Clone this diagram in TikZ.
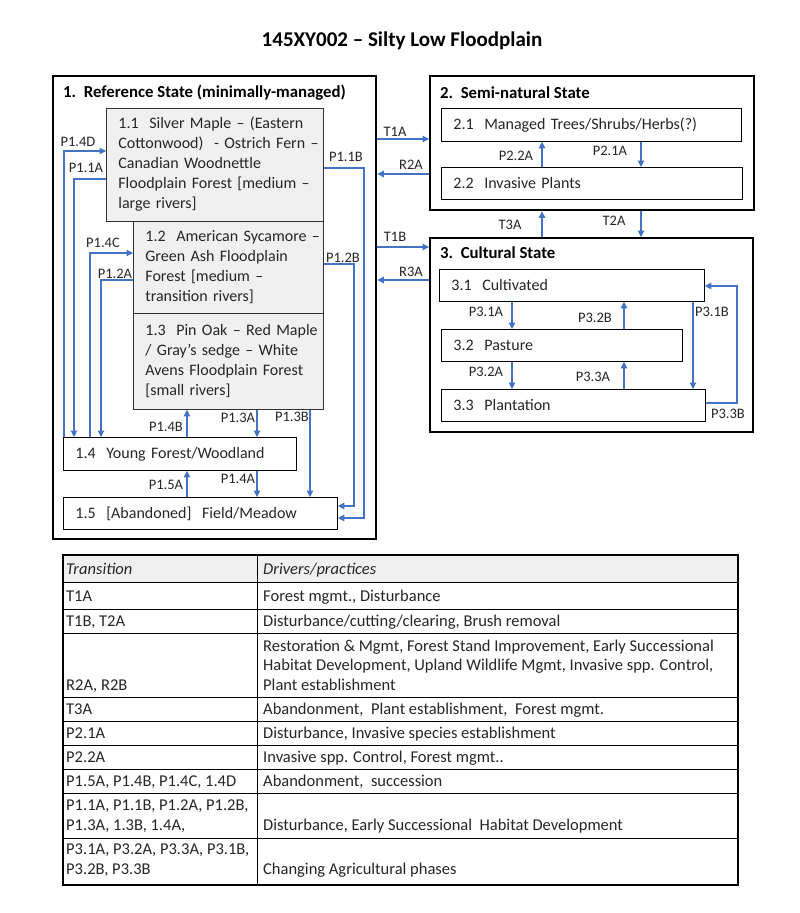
\documentclass[tikz,border=0pt]{standalone}
\usepackage{fontspec}
\setmainfont{Carlito}
\usepackage{tikz}
\usetikzlibrary{arrows.meta,positioning,calc}

\definecolor{arrowblue}{HTML}{4472C4}
\definecolor{boxgrey}{HTML}{F0F0F0}
\definecolor{txtgrey}{HTML}{262626}

\newcommand\boxfont{\fontsize{16}{20}\selectfont}
\newcommand\cellfont{\fontsize{16.5}{19.5}\selectfont}
\newcommand\lblfont{\fontsize{14.5}{16}\selectfont}
\newcommand\headfont{\fontsize{16.8}{20}\selectfont\bfseries}
\newcommand\phaselines[1]{\begin{tabular}{@{}l@{}}#1\end{tabular}}

\begin{document}
\begin{tikzpicture}[
  x=1pt, y=-1pt,
  state/.style={draw=black,line width=2.4pt,anchor=north west,inner sep=0pt},
  sbox/.style={draw=black,line width=0.8pt,fill=white,anchor=north west,inner xsep=12pt,inner ysep=0pt,align=left,font=\boxfont,text=txtgrey},
  gbox/.style={sbox,fill=boxgrey,draw=black!80},
  head/.style={anchor=west,inner sep=0pt,font=\headfont},
  lbl/.style={inner sep=0pt,font=\lblfont,text=txtgrey},
  arr/.style={draw=arrowblue,line width=1.1pt,-{Triangle[length=6.5pt,width=6.5pt]}},
  cell/.style={anchor=base west,inner sep=0pt,align=left,font=\cellfont,text=txtgrey},
  rule/.style={draw=black,line width=0.8pt}
]
  \fill[white] (0,0) rectangle (800,913);
  \useasboundingbox (0,0) rectangle (800,913);

  \node[font=\fontsize{21}{24}\selectfont\bfseries,inner sep=0pt] (title) at (402,41) {145XY002 – Silty Low Floodplain};

  % states
  \node[state,minimum width=323pt,minimum height=463pt] (st1) at (52,75) {};
  \node[state,minimum width=324pt,minimum height=134pt] (st2) at (429,75) {};
  \node[state,minimum width=323pt,minimum height=194pt] (st3) at (429,237) {};
  \node[head] (h1) at (63,93) {1.\ \ Reference State (minimally-managed)};
  \node[head] (h2) at (440,93) {2.\ \ Semi-natural State};
  \node[head] (h3) at (440,253) {3.\ \ Cultural State};

  % state 1 phases
  \node[gbox,text width=166pt,minimum height=92pt] (s12) at (133,221) {\phaselines{1.2\ \ American Sycamore –\\Green Ash Floodplain\\Forest [medium –\\transition rivers]}};
  \node[gbox,text width=166pt,minimum height=96pt] (s13) at (133,313) {\phaselines{1.3\ \ Pin Oak – Red Maple\\/ Gray’s sedge – White\\Avens Floodplain Forest\\{}[small rivers]}};
  \node[gbox,text width=193pt,minimum height=113pt] (s11) at (106,108) {\phaselines{1.1\ \ Silver Maple – (Eastern\\Cottonwood)\ \ - Ostrich Fern –\\Canadian Woodnettle\\Floodplain Forest [medium –\\large rivers]}};
  \node[sbox,text width=209pt,minimum height=33pt] (s14) at (63,437) {1.4\ \ Young Forest/Woodland};
  \node[sbox,text width=250pt,minimum height=32pt] (s15) at (63,497) {1.5\ \ [Abandoned]\ \ Field/Meadow};

  % state 2 and 3 phases
  \node[sbox,text width=276pt,minimum height=33pt] (s21) at (441,108) {2.1\ \ Managed Trees/Shrubs/Herbs(?)};
  \node[sbox,text width=277pt,minimum height=32pt] (s22) at (441,167) {2.2\ \ Invasive Plants};
  \node[sbox,text width=241pt,minimum height=32pt] (s31) at (439,269) {3.1\ \ Cultivated};
  \node[sbox,text width=217pt,minimum height=32pt] (s32) at (441,329) {3.2\ \ Pasture};
  \node[sbox,text width=240pt,minimum height=32pt] (s33) at (441,389) {3.3\ \ Plantation};

  % bends
  \coordinate (c14d) at (64,151);  \coordinate (c11a) at (74,179);
  \coordinate (c14c) at (90,253);  \coordinate (c12a) at (101,280);
  \coordinate (c11b) at (364,168); \coordinate (e11b) at (364,518);
  \coordinate (c12b) at (354,264); \coordinate (e12b) at (354,506);
  \coordinate (vA) at (187,0); \coordinate (vB) at (257,0); \coordinate (vC) at (310,0);
  \coordinate (v2a) at (542,0); \coordinate (v2b) at (641,0);
  \coordinate (v3a) at (512,0); \coordinate (v3b) at (624,0); \coordinate (v3c) at (693,0);
  \coordinate (c33b) at (737,403); \coordinate (c31b) at (737,286);
  \coordinate (yT1A) at (0,139); \coordinate (yR2A) at (0,174);
  \coordinate (yT1B) at (0,247); \coordinate (yR3A) at (0,280);

  \draw[arr] (s14.north -| c14d) |- (s11.west |- c14d);
  \draw[arr] (s11.west |- c11a) -| (s14.north -| c11a);
  \draw[arr] (s14.north -| c14c) |- (s12.west |- c14c);
  \draw[arr] (s12.west |- c12a) -| (s14.north -| c12a);
  \draw[arr] (s11.east |- c11b) -| (e11b) -- (s15.east |- e11b);
  \draw[arr] (s12.east |- c12b) -| (e12b) -- (s15.east |- e12b);
  \draw[arr] (s14.north -| vA) -- (s13.south -| vA);
  \draw[arr] (s13.south -| vB) -- (s14.north -| vB);
  \draw[arr] (s13.south -| vC) -- (s15.north -| vC);
  \draw[arr] (s15.north -| vA) -- (s14.south -| vA);
  \draw[arr] (s14.south -| vB) -- (s15.north -| vB);

  \draw[arr] (st1.east |- yT1A) -- (st2.west |- yT1A);
  \draw[arr] (st2.west |- yR2A) -- (st1.east |- yR2A);
  \draw[arr] (st1.east |- yT1B) -- (st3.west |- yT1B);
  \draw[arr] (st3.west |- yR3A) -- (st1.east |- yR3A);
  \draw[arr] (st3.north -| v2a) -- (st2.south -| v2a);
  \draw[arr] (st2.south -| v2b) -- (st3.north -| v2b);
  \draw[arr] (s22.north -| v2a) -- (s21.south -| v2a);
  \draw[arr] (s21.south -| v2b) -- (s22.north -| v2b);

  \draw[arr] (s31.south -| v3a) -- (s32.north -| v3a);
  \draw[arr] (s32.south -| v3a) -- (s33.north -| v3a);
  \draw[arr] (s32.north -| v3b) -- (s31.south -| v3b);
  \draw[arr] (s33.north -| v3b) -- (s32.south -| v3b);
  \draw[arr] (s31.south -| v3c) -- (s33.north -| v3c);
  \draw[arr] (s33.east |- c33b) -| (c31b) -- (s31.east |- c31b);

  % labels
  \node[lbl] (l14d) at (78,142) {P1.4D};
  \node[lbl] (l11a) at (86,168) {P1.1A};
  \node[lbl] (l14c) at (103,243) {P1.4C};
  \node[lbl] (l12a) at (115,274) {P1.2A};
  \node[lbl] (l11b) at (346,157) {P1.1B};
  \node[lbl] (l12b) at (343,258) {P1.2B};
  \node[lbl] (l14b) at (166,427) {P1.4B};
  \node[lbl] (l13a) at (238,418) {P1.3A};
  \node[lbl] (l13b) at (292,417) {P1.3B};
  \node[lbl] (l15a) at (166,485) {P1.5A};
  \node[lbl] (l14a) at (238,479) {P1.4A};
  \node[lbl] (lt1a) at (395,132) {T1A};
  \node[lbl] (lr2a) at (411,165) {R2A};
  \node[lbl] (lt1b) at (395,237) {T1B};
  \node[lbl] (lr3a) at (411,272) {R3A};
  \node[lbl] (lt3a) at (510,225) {T3A};
  \node[lbl] (lt2a) at (614,221) {T2A};
  \node[lbl] (l22a) at (516,156) {P2.2A};
  \node[lbl] (l21a) at (610,151) {P2.1A};
  \node[lbl] (l31a) at (486,312) {P3.1A};
  \node[lbl] (l32b) at (595,318) {P3.2B};
  \node[lbl] (l32a) at (486,372) {P3.2A};
  \node[lbl] (l33a) at (593,377) {P3.3A};
  \node[lbl] (l31b) at (712,312) {P3.1B};
  \node[lbl] (l33b) at (728,414) {P3.3B};

  % table
  \fill[boxgrey] (63,555) rectangle (738,582);
  \foreach \y in {582,609,633,697,721,745,769,793,838}
    \draw[rule] (63,\y) -- (738,\y);
  \draw[rule] (257,555) -- (257,885);
  \draw[line width=1.4pt] (63,555) rectangle (738,885);

  \node[cell] (r0a) at (66,574) {\itshape Transition};
  \node[cell] (r0b) at (263,574) {\itshape Drivers/practices};
  \node[cell] (r1a) at (66,601) {T1A};
  \node[cell] (r1b) at (263,601) {Forest mgmt., Disturbance};
  \node[cell] (r2a) at (66,626) {T1B, T2A};
  \node[cell] (r2b) at (263,626) {Disturbance/cutting/clearing, Brush removal};
  \node[cell] (r3a) at (66,690) {R2A, R2B};
  \node[cell] (r3b) at (263,690) {Restoration \& Mgmt, Forest Stand Improvement, Early Successional\\Habitat Development, Upland Wildlife Mgmt, Invasive spp. Control,\\Plant establishment};
  \node[cell] (r4a) at (66,714) {T3A};
  \node[cell] (r4b) at (263,714) {Abandonment,\ \ Plant establishment,\ \ Forest mgmt.};
  \node[cell] (r5a) at (66,738) {P2.1A};
  \node[cell] (r5b) at (263,738) {Disturbance, Invasive species establishment};
  \node[cell] (r6a) at (66,762) {P2.2A};
  \node[cell] (r6b) at (263,762) {Invasive spp. Control, Forest mgmt..};
  \node[cell] (r7a) at (66,786) {P1.5A, P1.4B, P1.4C, 1.4D};
  \node[cell] (r7b) at (263,786) {Abandonment,\ \ succession};
  \node[cell] (r8a) at (66,830) {P1.1A, P1.1B, P1.2A, P1.2B,\\P1.3A, 1.3B, 1.4A,};
  \node[cell] (r8b) at (263,830) {Disturbance, Early Successional\ \ Habitat Development};
  \node[cell] (r9a) at (66,874) {P3.1A, P3.2A, P3.3A, P3.1B,\\P3.2B, P3.3B};
  \node[cell] (r9b) at (263,874) {Changing Agricultural phases};
\end{tikzpicture}
\end{document}
